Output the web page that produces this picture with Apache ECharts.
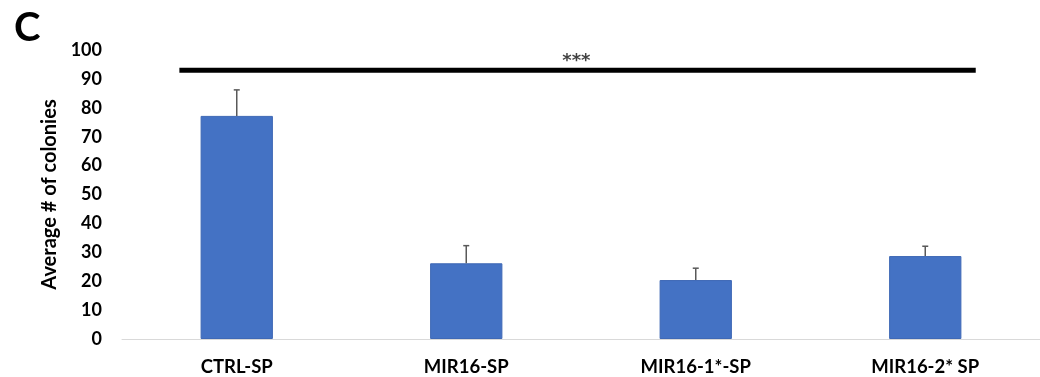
<!DOCTYPE html>
<html>
<head>
<meta charset="utf-8">
<script src="https://cdn.jsdelivr.net/npm/echarts@6/dist/echarts.min.js"></script>
<style>html,body{margin:0;padding:0;background:#fff}#c{width:1040px;height:377px}</style>
</head>
<body>
<div id="c"></div>
<script>
const categories = ['CTRL-SP', 'MIR16-SP', 'MIR16-1*-SP', 'MIR16-2* SP'];
const means = [77.2, 26.2, 20.4, 28.7];
const errorTops = [86.2, 32.3, 24.5, 32.1];
const yTicks = [0, 100, 10];
const sigLineX = [-0.25, 3.22];
const sigLineY = 93;
const sigStarsX = 1.48;
const sigLabel = '***';

const FONT = 'Lato, "Open Sans", sans-serif';
const chart = echarts.init(document.getElementById('c'));
chart.setOption({
  animation: false,
  title: { text: 'C', left: 9, top: 3, textStyle: { fontFamily: '"Liberation Sans Narrow", Lato, sans-serif', fontWeight: 'bold', fontSize: 40, color: '#000' } },
  grid: { left: 122, right: -4, top: 50, bottom: 38 },
  xAxis: [{
    type: 'category', data: categories,
    axisLine: { lineStyle: { color: '#d9d9d9', width: 1 } },
    axisTick: { show: false },
    axisLabel: { fontFamily: FONT, fontWeight: 'bold', fontSize: 18.5, color: '#000', margin: 19 }
  }, {
    type: 'value', min: -0.5, max: 3.5, show: false
  }],
  yAxis: {
    type: 'value', min: yTicks[0], max: yTicks[1], interval: yTicks[2],
    name: 'Average # of colonies', nameLocation: 'middle', nameGap: 60,
    nameTextStyle: { fontFamily: FONT, fontWeight: 'bold', fontSize: 20, color: '#000' },
    axisLine: { show: false }, axisTick: { show: false }, splitLine: { show: false },
    axisLabel: { fontFamily: FONT, fontWeight: 'bold', fontSize: 18, color: '#000', margin: 20 }
  },
  series: [{
    type: 'bar', data: means, barWidth: '31.5%',
    itemStyle: { color: '#4472C4', borderColor: '#3f69b6', borderWidth: 1 }
  }, {
    type: 'custom',
    data: categories.map((c, i) => [i, means[i], errorTops[i]]),
    renderItem: function (params, api) {
      const base = api.coord([api.value(0), api.value(1)]);
      const top = api.coord([api.value(0), api.value(2)]);
      const hw = 3;
      return {
        type: 'group', children: [
          { type: 'line', shape: { x1: base[0], y1: base[1], x2: top[0], y2: top[1] }, style: { stroke: '#595959', lineWidth: 1.5 } },
          { type: 'line', shape: { x1: top[0] - hw, y1: top[1], x2: top[0] + hw, y2: top[1] }, style: { stroke: '#595959', lineWidth: 1.5 } }
        ]
      };
    },
    z: 3
  }, {
    type: 'line', xAxisIndex: 1,
    data: [[sigLineX[0], sigLineY], [sigLineX[1], sigLineY]],
    showSymbol: false, symbol: 'none',
    lineStyle: { color: '#000', width: 5 }
  }, {
    type: 'scatter', xAxisIndex: 1, symbolSize: 0,
    data: [[sigStarsX, sigLineY]],
    label: { show: true, position: 'top', distance: 0, formatter: sigLabel, fontFamily: '"DejaVu Sans", sans-serif', fontWeight: 'bold', fontSize: 18, color: '#111' }
  }]
});
</script>
</body>
</html>
